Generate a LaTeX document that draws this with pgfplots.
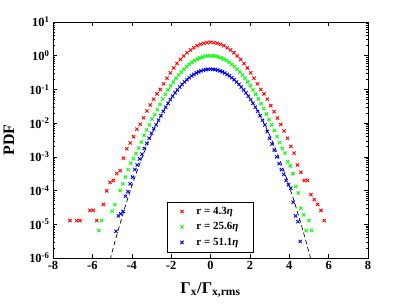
\documentclass[border=0pt]{standalone}
\usepackage{fontspec}
\setmainfont{Liberation Serif}
\usepackage{pgfplots}
\pgfplotsset{compat=1.18}
\pgfplotsset{myleg/.style={legend image code/.code={\path[draw=none,fill=none] (0bp,-3bp) rectangle (22bp,3bp); \draw[##1] plot coordinates {(11bp,0bp)};}}}
\begin{document}
\begin{tikzpicture}
\useasboundingbox (-53bp,-47bp) rectangle (354bp,258bp);
\begin{axis}[
  at={(0,0)}, anchor=south west,
  scale only axis, width=315bp, height=236bp,
  ymode=log, xmin=-8, xmax=8, ymin=1e-6, ymax=10,
  xtick={-8,-6,-4,-2,0,2,4,6,8},
  xticklabels={-8,-6,-4,-2,0,2,4,6,8},
  ytick={1e-6,1e-5,1e-4,1e-3,1e-2,1e-1,1,10},
  yticklabels={10\textsuperscript{-6},10\textsuperscript{-5},10\textsuperscript{-4},10\textsuperscript{-3},10\textsuperscript{-2},10\textsuperscript{-1},10\textsuperscript{0},10\textsuperscript{1}},
  tick align=inside,
  tick label style={font=\bfseries\fontsize{12.5}{14}\selectfont},
  axis line style={line width=0.6bp},
  every tick/.style={black, line width=0.5bp},
  major tick length=4bp, minor tick length=2.2bp,
  ylabel={PDF},
  ylabel style={font=\bfseries\fontsize{16}{18}\selectfont, at={(axis description cs:-0.14,0.5)}, anchor=center},
  xlabel={Γ\textsubscript{x}/Γ\textsubscript{x,rms}},
  xlabel style={font=\bfseries\fontsize{16.5}{18}\selectfont, at={(axis description cs:0.5,-0.103)}, anchor=north, inner sep=0pt},
  legend style={at={(axis description cs:0.635,0.025)}, anchor=south east, draw=black, line width=0.5bp,
    font=\bfseries\fontsize{11}{12}\selectfont, inner xsep=4bp, inner ysep=2bp,
    nodes={inner xsep=3.5bp, inner ysep=3.1bp}, row sep=0.5bp},
  legend cell align=left,
]
\addplot[only marks, mark=x, color=red, mark size=2.3bp, mark options={line width=0.9bp}, myleg] coordinates {
(-7.14,1.29e-5)(-6.80,1.29e-5)(-6.63,1.29e-5)(-6.12,2.58e-5)(-5.95,2.58e-5)(-5.78,1.29e-5)(-5.44,3.87e-5)(-5.27,9.8e-5)(-5.10,1.75e-4)(-4.93,2.0e-4)(-4.76,3.2e-4)(-4.59,3.9e-4)(-4.42,9.1e-4)(-4.25,1.74e-3)(-4.08,2.57e-3)(-3.91,3.98e-3)(-3.74,6.6e-3)(-3.57,9.3e-3)(-3.40,0.0145)(-3.23,0.0229)(-3.06,0.0347)(-2.89,0.0513)(-2.72,0.0741)(-2.55,0.100)
(-2.38,0.147)(-2.21,0.216)(-2.04,0.310)(-1.87,0.434)(-1.70,0.586)(-1.53,0.773)(-1.36,0.986)(-1.19,1.23)(-1.02,1.48)(-0.85,1.73)(-0.68,1.98)(-0.51,2.19)(-0.34,2.35)(-0.17,2.45)(0,2.49)(0.17,2.45)(0.34,2.35)(0.51,2.19)(0.68,1.98)(0.85,1.73)(1.02,1.48)(1.19,1.23)(1.36,0.986)(1.53,0.773)(1.70,0.586)(1.87,0.434)(2.04,0.310)(2.21,0.216)(2.38,0.147)(2.55,0.100)
(2.72,0.0741)(2.89,0.0513)(3.06,0.0331)(3.23,0.0219)(3.40,0.0141)(3.57,0.00912)(3.74,0.00589)(3.91,0.00355)(4.08,0.00204)(4.25,0.00129)(4.42,5.75e-4)(4.59,3.47e-4)(4.76,2.0e-4)(4.93,2.0e-4)(5.10,7.6e-5)(5.27,5.4e-5)(5.44,3.87e-5)(5.61,2.58e-5)(5.78,1.29e-5)
};
\addlegendentry{r = 4.3\textit{η}\hspace*{7bp}}
\addplot[only marks, mark=x, color=green, mark size=2.3bp, mark options={line width=0.9bp}, myleg] coordinates {
(-5.67,6.5e-6)(-5.535,1.29e-5)(-4.995,2.45e-5)(-4.86,3.8e-5)(-4.59,1.0e-4)(-4.455,1.58e-4)(-4.32,2.5e-4)(-4.185,4.2e-4)(-4.05,6.5e-4)(-3.915,8.9e-4)(-3.78,1.26e-3)(-3.645,1.82e-3)(-3.51,2.75e-3)(-3.375,4.37e-3)(-3.24,6.31e-3)(-3.105,8.91e-3)(-2.97,0.0132)(-2.835,0.0178)(-2.70,0.0251)(-2.565,0.0355)
(-2.43,0.0521)(-2.295,0.0716)(-2.16,0.0968)(-2.025,0.1285)(-1.89,0.167)(-1.755,0.214)(-1.62,0.269)(-1.485,0.331)(-1.35,0.401)(-1.215,0.476)(-1.08,0.557)(-0.945,0.638)(-0.81,0.719)(-0.675,0.794)(-0.54,0.863)(-0.405,0.918)(-0.27,0.962)(-0.135,0.989)(0,0.998)
(0.135,0.989)(0.27,0.962)(0.405,0.918)(0.54,0.863)(0.675,0.794)(0.81,0.719)(0.945,0.638)(1.08,0.557)(1.215,0.476)(1.35,0.401)(1.485,0.331)(1.62,0.269)(1.755,0.214)(1.89,0.167)(2.025,0.1285)(2.16,0.0968)(2.295,0.0716)(2.43,0.0521)
(2.565,0.0380)(2.70,0.0269)(2.835,0.0186)(2.97,0.0129)(3.105,0.00891)(3.24,0.00603)(3.375,0.00398)(3.51,0.00263)(3.645,0.00178)(3.78,0.00129)(3.915,7.2e-4)(4.05,5.4e-4)(4.185,3.16e-4)(4.32,1.32e-4)(4.455,8.5e-5)(4.59,3.0e-5)(4.725,1.9e-5)(4.86,6.5e-6)(4.995,1.29e-5)(5.13,6.5e-6)
};
\addlegendentry{r = 25.6\textit{η}\hspace*{7bp}}
\addplot[only marks, mark=x, color=blue, mark size=2.3bp, mark options={line width=0.9bp}, myleg] coordinates {
(-4.80,6.2e-6)(-4.68,1.78e-5)(-4.56,2.04e-5)(-4.44,2.4e-5)(-4.32,6.8e-5)(-4.20,9.3e-5)(-4.08,1.58e-4)(-3.96,2.5e-4)(-3.84,4.2e-4)(-3.72,5.75e-4)(-3.60,8.7e-4)(-3.48,1.2e-3)(-3.36,1.78e-3)(-3.24,2.51e-3)(-3.12,3.55e-3)(-3.00,5.0e-3)(-2.88,6.8e-3)
(-2.76,0.00885)(-2.64,0.01225)(-2.52,0.0167)(-2.40,0.0224)(-2.28,0.0297)(-2.16,0.0387)(-2.04,0.0498)(-1.92,0.0632)(-1.80,0.0789)(-1.68,0.0973)(-1.56,0.1183)(-1.44,0.1415)(-1.32,0.167)(-1.20,0.194)(-1.08,0.223)(-0.96,0.252)(-0.84,0.280)(-0.72,0.308)(-0.60,0.333)(-0.48,0.356)(-0.36,0.374)(-0.24,0.388)(-0.12,0.396)(0,0.399)
(0.12,0.396)(0.24,0.388)(0.36,0.374)(0.48,0.356)(0.60,0.333)(0.72,0.308)(0.84,0.280)(0.96,0.252)(1.08,0.223)(1.20,0.194)(1.32,0.167)(1.44,0.1415)(1.56,0.1183)(1.68,0.0973)(1.80,0.0789)(1.92,0.0632)(2.04,0.0498)(2.16,0.0387)(2.28,0.0297)(2.40,0.0224)(2.52,0.0167)(2.64,0.01225)(2.76,0.00885)
(2.88,0.00562)(3.00,0.00355)(3.12,0.0024)(3.24,0.00158)(3.36,0.0010)(3.48,6.3e-4)(3.60,4.2e-4)(3.72,3.0e-4)(3.84,2.0e-4)(3.96,1.48e-4)(4.08,1.17e-4)(4.20,4.5e-5)(4.32,1.78e-5)(4.44,1.2e-5)(4.56,3.1e-6)
};
\addlegendentry{r = 51.1\textit{η}\hspace*{7bp}}
\addplot[black, line width=0.7bp, dash pattern=on 4.5bp off 3bp, forget plot] coordinates {
(-5.1,8.93e-7)(-5.0,1.487e-6)(-4.8,3.961e-6)(-4.6,1.014e-5)(-4.4,2.494e-5)(-4.2,5.894e-5)(-4.0,1.338e-4)(-3.8,2.919e-4)(-3.6,6.119e-4)(-3.4,1.232e-3)(-3.2,2.384e-3)(-3.0,4.432e-3)(-2.8,7.915e-3)(-2.6,0.01358)(-2.4,0.02239)(-2.2,0.03547)(-2.0,0.05399)(-1.8,0.07895)(-1.6,0.1109)(-1.4,0.1497)(-1.2,0.1942)(-1.0,0.2420)(-0.8,0.2897)(-0.6,0.3332)(-0.4,0.3683)(-0.2,0.3910)(0,0.3989)
(0.2,0.3910)(0.4,0.3683)(0.6,0.3332)(0.8,0.2897)(1.0,0.2420)(1.2,0.1942)(1.4,0.1497)(1.6,0.1109)(1.8,0.07895)(2.0,0.05399)(2.2,0.03547)(2.4,0.02239)(2.6,0.01358)(2.8,7.915e-3)(3.0,4.432e-3)(3.2,2.384e-3)(3.4,1.232e-3)(3.6,6.119e-4)(3.8,2.919e-4)(4.0,1.338e-4)(4.2,5.894e-5)(4.4,2.494e-5)(4.6,1.014e-5)(4.8,3.961e-6)(5.0,1.487e-6)(5.1,8.93e-7)
};
\end{axis}
\end{tikzpicture}
\end{document}
